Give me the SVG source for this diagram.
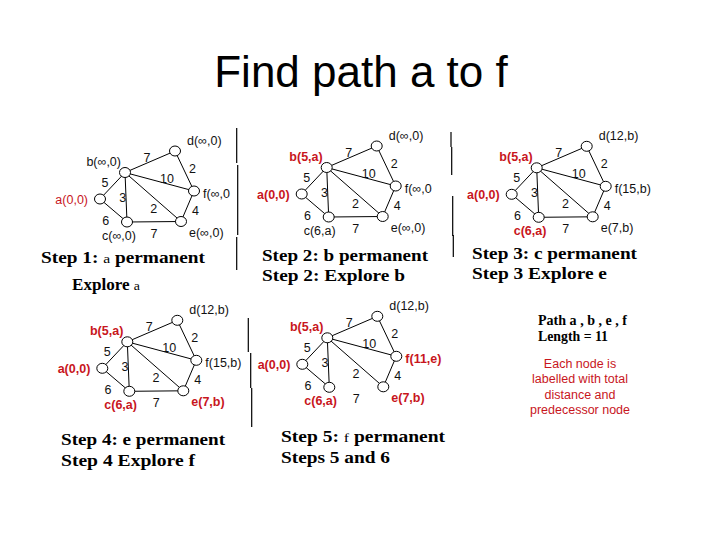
<svg xmlns="http://www.w3.org/2000/svg" width="720" height="540" viewBox="0 0 720 540">
<style>
.edge{stroke:#000;stroke-width:1;fill:none}
.node ellipse{fill:#fff;stroke:#000;stroke-width:1}
.lbl{font-family:"Liberation Sans",Arial,sans-serif;font-size:12.5px;fill:#111}
.w{font-family:"Liberation Sans",Arial,sans-serif;font-size:12.5px;fill:#111;text-anchor:middle}
.red{fill:#c8161d;font-weight:bold}
.redn{fill:#c8161d}
.end{text-anchor:end}
.step{font-family:"Liberation Serif","Times New Roman",serif;font-weight:bold;font-size:16px;fill:#000}
.sm{font-weight:normal;font-size:13px}
.sep{stroke:#000;stroke-width:1.2}
.note{font-family:"Liberation Sans",Arial,sans-serif;font-size:12.5px;fill:#c8161d;text-anchor:middle}
</style>
<rect width="720" height="540" fill="#fff"/>
<text x="361" y="87" text-anchor="middle" font-family="Liberation Sans, Arial, sans-serif" font-size="44" fill="#000">Find path a to f</text>

<g id="separators">
<line class="sep" x1="236.7" y1="128" x2="236.7" y2="163"/>
<line class="sep" x1="237.7" y1="165" x2="237.7" y2="235"/>
<line class="sep" x1="236.7" y1="237" x2="236.7" y2="270"/>
<line class="sep" x1="451" y1="132" x2="451" y2="147"/>
<line class="sep" x1="451.7" y1="147" x2="451.7" y2="175"/>
<line class="sep" x1="452.7" y1="196" x2="452.7" y2="236"/>
<line class="sep" x1="453.3" y1="235" x2="453.3" y2="257"/>
<line class="sep" x1="248.3" y1="318" x2="248.3" y2="352"/>
<line class="sep" x1="250.7" y1="353" x2="250.7" y2="388"/>
<line class="sep" x1="251.7" y1="388" x2="251.7" y2="427"/>
</g>

<!-- Panel 1 -->
<g id="panel1" transform="translate(100,199)">
<g id="p1-connectors">
<line class="edge" x1="0" y1="0" x2="25" y2="-26.5"/>
<line class="edge" x1="0" y1="0" x2="27" y2="23"/>
<line class="edge" x1="25" y1="-26.5" x2="27" y2="23"/>
<line class="edge" x1="25" y1="-26.5" x2="75" y2="-48"/>
<line class="edge" x1="25" y1="-26.5" x2="94" y2="-8"/>
<line class="edge" x1="25" y1="-26.5" x2="81" y2="22.5"/>
<line class="edge" x1="75" y1="-48" x2="94" y2="-8"/>
<line class="edge" x1="94" y1="-8" x2="81" y2="22.5"/>
<line class="edge" x1="27" y1="23" x2="81" y2="22.5"/>
<text class="w" x="47" y="-37.5">7</text>
<text class="w" x="92.5" y="-26">2</text>
<text class="w" x="5" y="-12.5">5</text>
<text class="w" x="67" y="-16">10</text>
<text class="w" x="22.7" y="3">3</text>
<text class="w" x="53.7" y="13.5">2</text>
<text class="w" x="95.5" y="16">4</text>
<text class="w" x="5.7" y="25.5">6</text>
<text class="w" x="54" y="38.5">7</text>
</g>
<g id="p1-a" class="node"><ellipse cx="0" cy="0" rx="5.5" ry="5"/><text class="lbl redn end" x="-12" y="4.5">a(0,0)</text></g>
<g id="p1-b" class="node"><ellipse cx="25" cy="-26.5" rx="5.5" ry="5"/><text class="lbl end" x="21" y="-33">b(∞,0)</text></g>
<g id="p1-c" class="node"><ellipse cx="27" cy="23" rx="5.5" ry="5"/><text class="lbl" x="2" y="41">c(∞,0)</text></g>
<g id="p1-d" class="node"><ellipse cx="75" cy="-48" rx="5.5" ry="5"/><text class="lbl" x="87" y="-54">d(∞,0)</text></g>
<g id="p1-f" class="node"><ellipse cx="94" cy="-8" rx="5.5" ry="5"/><text class="lbl" x="103" y="-1">f(∞,0</text></g>
<g id="p1-e" class="node"><ellipse cx="81" cy="22.5" rx="5.5" ry="5"/><text class="lbl" x="89" y="38">e(∞,0)</text></g>
</g>
<text class="step" x="41" y="263" textLength="164" lengthAdjust="spacingAndGlyphs">Step 1: <tspan class="sm">a</tspan> permanent</text>
<text class="step" x="72" y="290" textLength="68" lengthAdjust="spacingAndGlyphs">Explore <tspan class="sm">a</tspan></text>

<!-- Panel 2 -->
<g id="panel2" transform="translate(301.7,194)">
<g id="p2-connectors">
<line class="edge" x1="0" y1="0" x2="25" y2="-26.5"/>
<line class="edge" x1="0" y1="0" x2="27" y2="23"/>
<line class="edge" x1="25" y1="-26.5" x2="27" y2="23"/>
<line class="edge" x1="25" y1="-26.5" x2="75" y2="-48"/>
<line class="edge" x1="25" y1="-26.5" x2="94" y2="-8"/>
<line class="edge" x1="25" y1="-26.5" x2="81" y2="22.5"/>
<line class="edge" x1="75" y1="-48" x2="94" y2="-8"/>
<line class="edge" x1="94" y1="-8" x2="81" y2="22.5"/>
<line class="edge" x1="27" y1="23" x2="81" y2="22.5"/>
<text class="w" x="47" y="-37.5">7</text>
<text class="w" x="92.5" y="-26">2</text>
<text class="w" x="5" y="-12.5">5</text>
<text class="w" x="67" y="-16">10</text>
<text class="w" x="22.7" y="3">3</text>
<text class="w" x="53.7" y="13.5">2</text>
<text class="w" x="95.5" y="16">4</text>
<text class="w" x="5.7" y="25.5">6</text>
<text class="w" x="54" y="38.5">7</text>
</g>
<g id="p2-a" class="node"><ellipse cx="0" cy="0" rx="5.5" ry="5"/><text class="lbl red end" x="-12" y="4.5">a(0,0)</text></g>
<g id="p2-b" class="node"><ellipse cx="25" cy="-26.5" rx="5.5" ry="5"/><text class="lbl red end" x="21" y="-33">b(5,a)</text></g>
<g id="p2-c" class="node"><ellipse cx="27" cy="23" rx="5.5" ry="5"/><text class="lbl" x="2" y="41">c(6,a)</text></g>
<g id="p2-d" class="node"><ellipse cx="75" cy="-48" rx="5.5" ry="5"/><text class="lbl" x="87" y="-54">d(∞,0)</text></g>
<g id="p2-f" class="node"><ellipse cx="94" cy="-8" rx="5.5" ry="5"/><text class="lbl" x="103" y="-1">f(∞,0</text></g>
<g id="p2-e" class="node"><ellipse cx="81" cy="22.5" rx="5.5" ry="5"/><text class="lbl" x="89" y="38">e(∞,0)</text></g>
</g>
<text class="step" x="262" y="261" textLength="166" lengthAdjust="spacingAndGlyphs">Step 2: b permanent</text>
<text class="step" x="262" y="281" textLength="143" lengthAdjust="spacingAndGlyphs">Step 2: Explore b</text>

<!-- Panel 3 -->
<g id="panel3" transform="translate(511.7,194.3)">
<g id="p3-connectors">
<line class="edge" x1="0" y1="0" x2="25" y2="-26.5"/>
<line class="edge" x1="0" y1="0" x2="27" y2="23"/>
<line class="edge" x1="25" y1="-26.5" x2="27" y2="23"/>
<line class="edge" x1="25" y1="-26.5" x2="75" y2="-48"/>
<line class="edge" x1="25" y1="-26.5" x2="94" y2="-8"/>
<line class="edge" x1="25" y1="-26.5" x2="81" y2="22.5"/>
<line class="edge" x1="75" y1="-48" x2="94" y2="-8"/>
<line class="edge" x1="94" y1="-8" x2="81" y2="22.5"/>
<line class="edge" x1="27" y1="23" x2="81" y2="22.5"/>
<text class="w" x="47" y="-37.5">7</text>
<text class="w" x="92.5" y="-26">2</text>
<text class="w" x="5" y="-12.5">5</text>
<text class="w" x="67" y="-16">10</text>
<text class="w" x="22.7" y="3">3</text>
<text class="w" x="53.7" y="13.5">2</text>
<text class="w" x="95.5" y="16">4</text>
<text class="w" x="5.7" y="25.5">6</text>
<text class="w" x="54" y="38.5">7</text>
</g>
<g id="p3-a" class="node"><ellipse cx="0" cy="0" rx="5.5" ry="5"/><text class="lbl red end" x="-12" y="4.5">a(0,0)</text></g>
<g id="p3-b" class="node"><ellipse cx="25" cy="-26.5" rx="5.5" ry="5"/><text class="lbl red end" x="21" y="-33">b(5,a)</text></g>
<g id="p3-c" class="node"><ellipse cx="27" cy="23" rx="5.5" ry="5"/><text class="lbl red" x="2" y="41">c(6,a)</text></g>
<g id="p3-d" class="node"><ellipse cx="75" cy="-48" rx="5.5" ry="5"/><text class="lbl" x="87" y="-54">d(12,b)</text></g>
<g id="p3-f" class="node"><ellipse cx="94" cy="-8" rx="5.5" ry="5"/><text class="lbl" x="103" y="-1">f(15,b)</text></g>
<g id="p3-e" class="node"><ellipse cx="81" cy="22.5" rx="5.5" ry="5"/><text class="lbl" x="89" y="38">e(7,b)</text></g>
</g>
<text class="step" x="472" y="258.5" textLength="165" lengthAdjust="spacingAndGlyphs">Step 3: c permanent</text>
<text class="step" x="472" y="279" textLength="135" lengthAdjust="spacingAndGlyphs">Step 3 Explore e</text>

<!-- Panel 4 -->
<g id="panel4" transform="translate(102.3,368.3)">
<g id="p4-connectors">
<line class="edge" x1="0" y1="0" x2="25" y2="-26.5"/>
<line class="edge" x1="0" y1="0" x2="27" y2="23"/>
<line class="edge" x1="25" y1="-26.5" x2="27" y2="23"/>
<line class="edge" x1="25" y1="-26.5" x2="75" y2="-48"/>
<line class="edge" x1="25" y1="-26.5" x2="94" y2="-8"/>
<line class="edge" x1="25" y1="-26.5" x2="81" y2="22.5"/>
<line class="edge" x1="75" y1="-48" x2="94" y2="-8"/>
<line class="edge" x1="94" y1="-8" x2="81" y2="22.5"/>
<line class="edge" x1="27" y1="23" x2="81" y2="22.5"/>
<text class="w" x="47" y="-37.5">7</text>
<text class="w" x="92.5" y="-26">2</text>
<text class="w" x="5" y="-12.5">5</text>
<text class="w" x="67" y="-16">10</text>
<text class="w" x="22.7" y="3">3</text>
<text class="w" x="53.7" y="13.5">2</text>
<text class="w" x="95.5" y="16">4</text>
<text class="w" x="5.7" y="25.5">6</text>
<text class="w" x="54" y="38.5">7</text>
</g>
<g id="p4-a" class="node"><ellipse cx="0" cy="0" rx="5.5" ry="5"/><text class="lbl red end" x="-12" y="4.5">a(0,0)</text></g>
<g id="p4-b" class="node"><ellipse cx="25" cy="-26.5" rx="5.5" ry="5"/><text class="lbl red end" x="21" y="-33">b(5,a)</text></g>
<g id="p4-c" class="node"><ellipse cx="27" cy="23" rx="5.5" ry="5"/><text class="lbl red" x="2" y="41">c(6,a)</text></g>
<g id="p4-d" class="node"><ellipse cx="75" cy="-48" rx="5.5" ry="5"/><text class="lbl" x="87" y="-54">d(12,b)</text></g>
<g id="p4-f" class="node"><ellipse cx="94" cy="-8" rx="5.5" ry="5"/><text class="lbl" x="103" y="-1">f(15,b)</text></g>
<g id="p4-e" class="node"><ellipse cx="81" cy="22.5" rx="5.5" ry="5"/><text class="lbl red" x="89" y="38">e(7,b)</text></g>
</g>
<text class="step" x="61" y="445" textLength="164" lengthAdjust="spacingAndGlyphs">Step 4: e permanent</text>
<text class="step" x="61" y="465.5" textLength="134" lengthAdjust="spacingAndGlyphs">Step 4 Explore f</text>

<!-- Panel 5 -->
<g id="panel5" transform="translate(302.3,364.3)">
<g id="p5-connectors">
<line class="edge" x1="0" y1="0" x2="25" y2="-26.5"/>
<line class="edge" x1="0" y1="0" x2="27" y2="23"/>
<line class="edge" x1="25" y1="-26.5" x2="27" y2="23"/>
<line class="edge" x1="25" y1="-26.5" x2="75" y2="-48"/>
<line class="edge" x1="25" y1="-26.5" x2="94" y2="-8"/>
<line class="edge" x1="25" y1="-26.5" x2="81" y2="22.5"/>
<line class="edge" x1="75" y1="-48" x2="94" y2="-8"/>
<line class="edge" x1="94" y1="-8" x2="81" y2="22.5"/>
<text class="w" x="47" y="-37.5">7</text>
<text class="w" x="92.5" y="-26">2</text>
<text class="w" x="5" y="-12.5">5</text>
<text class="w" x="67" y="-16">10</text>
<text class="w" x="22.7" y="3">3</text>
<text class="w" x="53.7" y="13.5">2</text>
<text class="w" x="95.5" y="16">4</text>
<text class="w" x="5.7" y="25.5">6</text>
<text class="w" x="54" y="38.5">7</text>
</g>
<g id="p5-a" class="node"><ellipse cx="0" cy="0" rx="5.5" ry="5"/><text class="lbl red end" x="-12" y="4.5">a(0,0)</text></g>
<g id="p5-b" class="node"><ellipse cx="25" cy="-26.5" rx="5.5" ry="5"/><text class="lbl red end" x="21" y="-33">b(5,a)</text></g>
<g id="p5-c" class="node"><ellipse cx="27" cy="23" rx="5.5" ry="5"/><text class="lbl red" x="2" y="41">c(6,a)</text></g>
<g id="p5-d" class="node"><ellipse cx="75" cy="-48" rx="5.5" ry="5"/><text class="lbl" x="87" y="-54">d(12,b)</text></g>
<g id="p5-f" class="node"><ellipse cx="94" cy="-8" rx="5.5" ry="5"/><text class="lbl red" x="103" y="-1">f(11,e)</text></g>
<g id="p5-e" class="node"><ellipse cx="81" cy="22.5" rx="5.5" ry="5"/><text class="lbl red" x="89" y="38">e(7,b)</text></g>
</g>
<text class="step" x="281" y="441.5" textLength="164" lengthAdjust="spacingAndGlyphs">Step 5: <tspan class="sm">f</tspan> permanent</text>
<text class="step" x="281" y="463" textLength="109" lengthAdjust="spacingAndGlyphs">Steps 5 and 6</text>

<g id="summary">
<text class="step" x="538" y="325" font-size="14" textLength="89" lengthAdjust="spacingAndGlyphs" style="font-size:14px">Path a , b , e , f</text>
<text class="step" x="538" y="341" textLength="70" lengthAdjust="spacingAndGlyphs" style="font-size:14px">Length = 11</text>
<text class="note" x="580" y="368">Each node is</text>
<text class="note" x="580" y="383">labelled with total</text>
<text class="note" x="580" y="398.5">distance and</text>
<text class="note" x="580" y="414">predecessor  node</text>
</g>
</svg>
